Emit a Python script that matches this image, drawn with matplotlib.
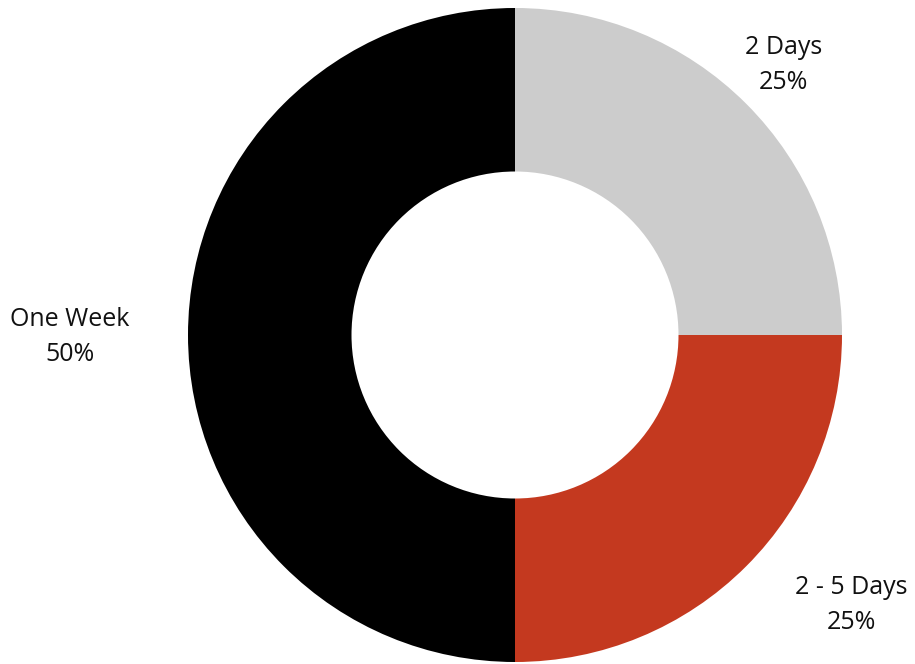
import matplotlib

matplotlib.use("Agg")
import matplotlib.pyplot as plt

CATEGORIES = ["2 Days", "2 - 5 Days", "One Week"]
SHARES = [25, 25, 50]
COLORS = ["#cccccc", "#c4391f", "#000000"]
# label centres in axes data units (pie radius = 1)
LABEL_POS = [(0.82, 0.826), (1.028, -0.826), (-1.361, -0.006)]

plt.rcParams["font.family"] = ["Open Sans", "DejaVu Sans"]

fig = plt.figure(figsize=(9.15, 6.64), dpi=100)
ax = fig.add_axes([188 / 915, 2 / 664, 654 / 915, 654 / 664])

ax.pie(
    SHARES,
    colors=COLORS,
    startangle=90,
    counterclock=False,
    radius=1.0,
    wedgeprops={"width": 0.5, "linewidth": 0},
)

for name, share, (x, y) in zip(CATEGORIES, SHARES, LABEL_POS):
    ax.text(x, y, f"{name}\n{share}%", ha="center", va="center",
            fontsize=18, linespacing=1.5, color="#111111", clip_on=False)

ax.set_xlim(-1, 1)
ax.set_ylim(-1, 1)
ax.set_aspect("equal")
ax.axis("off")

fig.savefig("out.png", dpi=100)
